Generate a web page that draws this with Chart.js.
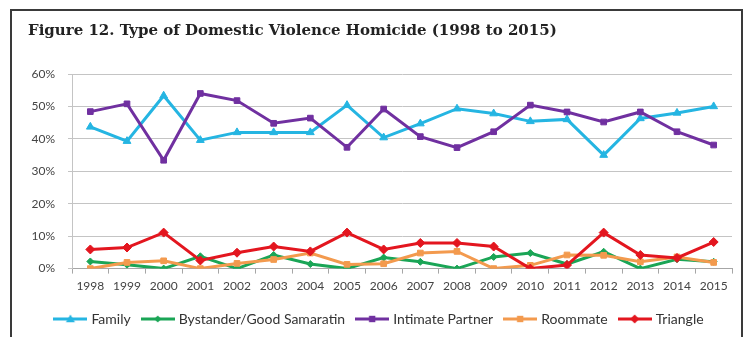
<!DOCTYPE html>
<html>
<head>
<meta charset="utf-8">
<script src="https://cdn.jsdelivr.net/npm/chart.js@4/dist/chart.umd.min.js"></script>
<style>
  body { margin: 0; background: #fff; }
  #box {
    position: absolute; left: 10px; top: 9px; width: 733px; height: 340px;
    border: 2px solid #3a3a3a; box-sizing: border-box;
  }
  #grafik { position: absolute; left: 0; top: 0; }
</style>
</head>
<body>
<div id="box"></div>
<canvas id="grafik" width="752" height="337"></canvas>
<script>
const years = ["1998","1999","2000","2001","2002","2003","2004","2005","2006",
               "2007","2008","2009","2010","2011","2012","2013","2014","2015"];

const family    = [43.7, 39.3, 53.3, 39.6, 42.0, 42.0, 42.0, 50.4, 40.4, 44.7, 49.3, 47.8, 45.4, 46.0, 35.0, 46.3, 48.0, 50.0];
const bystander = [2.2, 1.2, 0, 3.8, 0, 4.2, 1.4, 0, 3.4, 2.1, 0, 3.6, 4.8, 1.4, 5.2, 0, 2.9, 2.1];
const intimate  = [48.4, 50.8, 33.4, 54.0, 51.8, 44.8, 46.4, 37.4, 49.2, 40.7, 37.3, 42.2, 50.4, 48.3, 45.2, 48.3, 42.2, 38.1];
const roommate  = [0, 1.9, 2.4, 0, 1.6, 2.8, 4.8, 1.3, 1.5, 4.8, 5.3, 0, 1.0, 4.2, 4.1, 2.1, 3.6, 1.9];
const triangle  = [5.9, 6.5, 11.1, 2.5, 4.9, 6.8, 5.3, 11.1, 5.9, 7.9, 7.9, 6.8, 0, 1.1, 11.1, 4.2, 3.3, 8.2];

const seriesNames = ["Family", "Bystander/Good Samaratin", "Intimate Partner", "Roommate", "Triangle"];
const warna = ["#25b5e2", "#1aa556", "#7030a0", "#f39a4e", "#e3161f"];
const bentuk = ["triangle", "rectRot", "rect", "rect", "rectRot"];
const ukuran = [4.5, 3.5, 4, 4, 4.5];

// ikon legenda: garis + penanda
function buatIkon(col, style, r) {
    const c = document.createElement("canvas");
    c.width = 34; c.height = 12;
    const g = c.getContext("2d");
    g.strokeStyle = col; g.lineWidth = 3;
    g.beginPath(); g.moveTo(0, 6); g.lineTo(34, 6); g.stroke();
    g.fillStyle = col;
    g.beginPath();
    if (style === "triangle") {
        g.moveTo(17, 6 - r); g.lineTo(17 + r, 6 + r * 0.7); g.lineTo(17 - r, 6 + r * 0.7);
    } else if (style === "rectRot") {
        g.moveTo(17, 6 - r); g.lineTo(17 + r, 6); g.lineTo(17, 6 + r); g.lineTo(17 - r, 6);
    } else {
        g.rect(17 - r * 0.8, 6 - r * 0.8, r * 1.6, r * 1.6);
    }
    g.closePath(); g.fill();
    return c;
}

const semuaData = [family, bystander, intimate, roommate, triangle];
const ikon = warna.map((w, i) => buatIkon(w, bentuk[i], ukuran[i]));

const datasets = semuaData.map((d, i) => ({
    label: seriesNames[i],
    data: d,
    borderColor: warna[i],
    backgroundColor: warna[i],
    borderWidth: 3,
    pointStyle: bentuk[i],
    pointRadius: ukuran[i],
    pointBorderWidth: 1,
    tension: 0,
    order: 4 - i
}));

const ctx = document.getElementById("grafik").getContext("2d");

new Chart(ctx, {
    type: "line",
    data: { labels: years, datasets },
    options: {
        responsive: false,
        animation: false,
        layout: { padding: { left: 28, right: 20, top: 0, bottom: 1 } },
        plugins: {
            tooltip: { enabled: false },
            title: {
                display: true,
                text: "Figure 12. Type of Domestic Violence Homicide (1998 to 2015)",
                align: "start",
                color: "#222",
                font: { family: "DejaVu Serif", size: 15, weight: "bold" },
                padding: { top: 22, bottom: 34 }
            },
            legend: {
                position: "bottom",
                labels: {
                    usePointStyle: true,
                    pointStyleWidth: 28,
                    padding: 13,
                    color: "#333",
                    font: { family: "Lato", size: 14 },
                    generateLabels: (chart) => chart.data.datasets.map((ds, i) => ({
                        text: ds.label,
                        pointStyle: ikon[i],
                        fillStyle: ds.borderColor,
                        strokeStyle: ds.borderColor,
                        lineWidth: 0,
                        hidden: false,
                        datasetIndex: i,
                        fontColor: "#333"
                    }))
                }
            }
        },
        scales: {
            x: {
                offset: true,
                afterFit: (s) => { s.height += 1; },
                grid: { offset: true, drawOnChartArea: false, drawTicks: true, tickLength: 5, color: "#a6a6a6" },
                border: { color: "#a6a6a6" },
                ticks: { color: "#444", font: { family: "Lato", size: 12 }, padding: 5, maxRotation: 0, autoSkip: false }
            },
            y: {
                min: 0,
                max: 60,
                afterFit: (s) => { s.width = 44; },
                grid: { color: "#c4c4c4", tickLength: 4, drawTicks: true },
                border: { display: true, color: "#c4c4c4" },
                ticks: {
                    stepSize: 10,
                    padding: 13,
                    color: "#444",
                    font: { family: "Lato", size: 12 },
                    callback: (v) => v + "%"
                }
            }
        }
    }
});
</script>
</body>
</html>
